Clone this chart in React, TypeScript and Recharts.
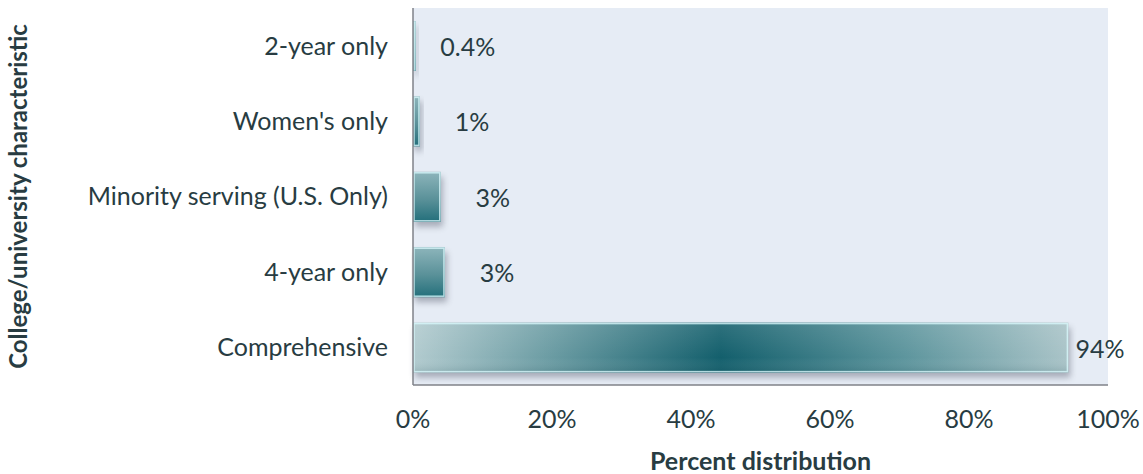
import React from "react";
import { BarChart, Bar, XAxis, YAxis, CartesianGrid, LabelList } from "recharts";

const categories = [
  "2-year only",
  "Women's only",
  "Minority serving (U.S. Only)",
  "4-year only",
  "Comprehensive",
];
const shares = [0.4, 1, 4.0, 4.6, 94.3];
const shareLabels = ["0.4%", "1%", "3%", "3%", "94%"];
const xTicks = [0, 20, 40, 60, 80, 100];

const data = categories.map((name, i) => ({ name, value: shares[i], label: shareLabels[i] }));

const TEXT = "#283c42";
const FONT = "Lato, 'Open Sans', sans-serif";
const W = 1143;
const H = 474;
const PLOT_RIGHT = 1108;

const BevelBar = (props: any) => {
  const { x, y, width, height } = props;
  if (width <= 0) return null;
  const w = Math.max(width, 2.5);
  const narrow = w < 80;
  return (
    <g>
      <rect x={x + 2} y={y + 5} width={w} height={height} fill="#5a5f70" opacity={0.45} filter="url(#shadow)" />
      <rect x={x} y={y} width={w} height={height} fill={narrow ? "url(#smallGrad)" : "url(#barGrad)"} />
      {!narrow && <rect x={x} y={y} width={w} height={height} fill="url(#vShade)" />}
      <rect
        x={x + 1}
        y={y + 1}
        width={Math.max(w - 2, 0.5)}
        height={height - 2}
        fill="none"
        stroke="#d8f8fb"
        strokeOpacity={0.8}
        strokeWidth={1.5}
      />
    </g>
  );
};

const ValueLabel = (props: any) => {
  const { x, y, width, height, value } = props;
  const cx = Math.min(x + width + 52, PLOT_RIGHT - 8);
  return (
    <text
      x={cx}
      y={y + height / 2}
      textAnchor="middle"
      dominantBaseline="central"
      fill={TEXT}
      fontSize={25}
      fontFamily={FONT}
    >
      {value}
    </text>
  );
};

export default function App() {
  return (
    <div style={{ position: "absolute", left: 0, top: 0, width: W, height: H, background: "#fff" }}>
      <BarChart
        width={W}
        height={H}
        data={data}
        layout="vertical"
        margin={{ top: 8, right: W - PLOT_RIGHT, bottom: 0, left: 0 }}
        barSize={50}
      >
        <defs>
          <linearGradient id="barGrad" x1="0" y1="0" x2="1" y2="0">
            <stop offset="0%" stopColor="#b2cbcf" />
            <stop offset="20%" stopColor="#6e9ea5" />
            <stop offset="47%" stopColor="#135f6c" />
            <stop offset="75%" stopColor="#5d959d" />
            <stop offset="100%" stopColor="#aac4c8" />
          </linearGradient>
          <linearGradient id="smallGrad" x1="0" y1="0" x2="0" y2="1">
            <stop offset="0%" stopColor="#8db5bb" />
            <stop offset="55%" stopColor="#5a9199" />
            <stop offset="100%" stopColor="#236f7b" />
          </linearGradient>
          <linearGradient id="vShade" x1="0" y1="0" x2="0" y2="1">
            <stop offset="0%" stopColor="#ffffff" stopOpacity={0.12} />
            <stop offset="70%" stopColor="#ffffff" stopOpacity={0} />
            <stop offset="100%" stopColor="#0b3a44" stopOpacity={0.15} />
          </linearGradient>
          <filter id="shadow" x="-10%" y="-30%" width="130%" height="170%">
            <feGaussianBlur stdDeviation="3" />
          </filter>
        </defs>
        <CartesianGrid horizontal={false} vertical={false} fill="#e6ecf5" />
        <XAxis
          type="number"
          domain={[0, 100]}
          ticks={xTicks}
          tickFormatter={(v: number) => `${v}%`}
          axisLine={{ stroke: "#7f8288", strokeWidth: 1.5 }}
          tickLine={false}
          tickSize={0}
          tickMargin={25}
          height={89}
          tick={{ fill: TEXT, fontSize: 25, fontFamily: FONT }}
          interval={0}
          label={{
            value: "Percent distribution",
            position: "insideBottom",
            offset: 4,
            fill: TEXT,
            fontSize: 25,
            fontWeight: 700,
            fontFamily: FONT,
          }}
        />
        <YAxis
          type="category"
          dataKey="name"
          width={413}
          axisLine={{ stroke: "#7f8288", strokeWidth: 1.5 }}
          tickLine={false}
          tickSize={0}
          tickMargin={25}
          tick={{ fill: TEXT, fontSize: 25, fontFamily: FONT }}
          interval={0}
          label={{
            value: "College/university characteristic",
            angle: -90,
            position: "insideLeft",
            offset: 18,
            fill: TEXT,
            fontSize: 24,
            fontWeight: 700,
            fontFamily: FONT,
            style: { textAnchor: "middle" },
          }}
        />
        <Bar dataKey="value" shape={<BevelBar />} isAnimationActive={false}>
          <LabelList dataKey="label" content={<ValueLabel />} />
        </Bar>
      </BarChart>
    </div>
  );
}
